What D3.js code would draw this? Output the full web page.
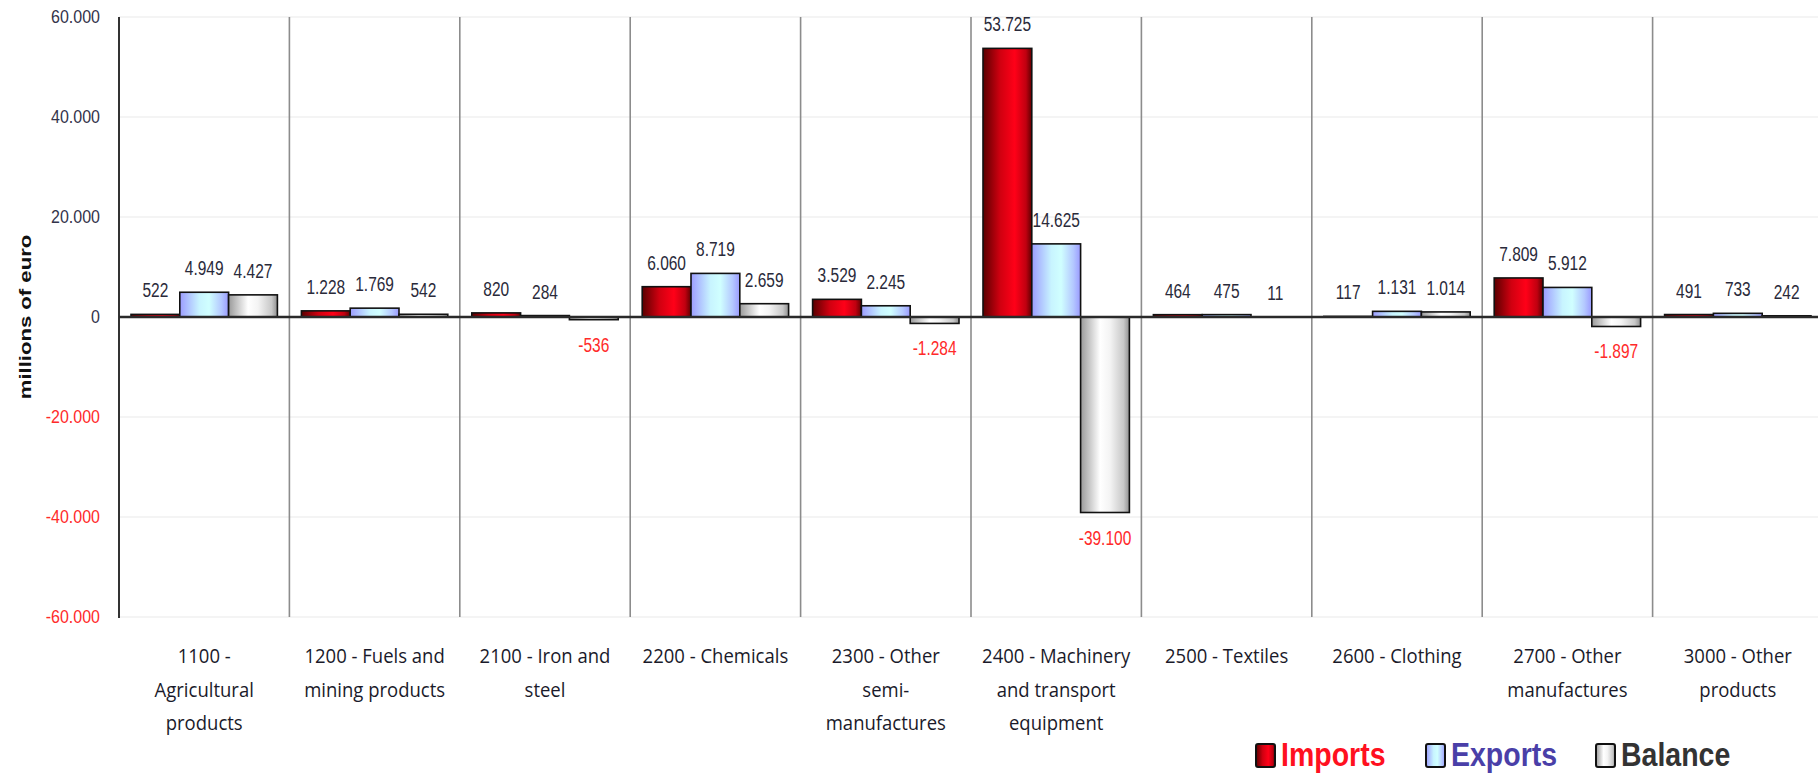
<!DOCTYPE html>
<html>
<head>
<meta charset="utf-8">
<script src="https://cdn.jsdelivr.net/npm/d3@7"></script>
<style>
  html, body { margin: 0; padding: 0; background: #fff; }
  svg { display: block; }
</style>
</head>
<body>
<div id="chart"></div>
<script>
// ---- Data ----
const categories = [
  ["1100 -", "Agricultural", "products"],
  ["1200 - Fuels and", "mining products"],
  ["2100 - Iron and", "steel"],
  ["2200 - Chemicals"],
  ["2300 - Other", "semi-", "manufactures"],
  ["2400 - Machinery", "and transport", "equipment"],
  ["2500 - Textiles"],
  ["2600 - Clothing"],
  ["2700 - Other", "manufactures"],
  ["3000 - Other", "products"]
];
const imports = [522, 1228, 820, 6060, 3529, 53725, 464, 117, 7809, 491];
const exportsV = [4949, 1769, 284, 8719, 2245, 14625, 475, 1131, 5912, 733];
const balance = [4427, 542, -536, 2659, -1284, -39100, 11, 1014, -1897, 242];
const seriesNames = ["Imports", "Exports", "Balance"];
const seriesValues = [imports, exportsV, balance];
const yTicks = [-60000, -40000, -20000, 0, 20000, 40000, 60000];
const yTitle = "millions of euro";

// ---- Setup ----
const W = 1818, H = 775;
const svg = d3.select("#chart").append("svg").attr("width", W).attr("height", H);
const defs = svg.append("defs");

const locale = d3.formatLocale({decimal: ",", thousands: ".", grouping: [3], currency: ["", ""], minus: "-"});
const fmt = locale.format(",d");

const plotLeft = 119, plotRight = 1823, plotTop = 17, plotBottom = 617;
const catIdx = d3.range(categories.length);
const x0 = d3.scaleBand().domain(catIdx).range([plotLeft, plotRight]).paddingInner(0).paddingOuter(0);
const x1 = d3.scaleBand().domain(seriesNames).range([12, x0.bandwidth() - 12]).padding(0);
const y = d3.scaleLinear().domain([-60000, 60000]).range([plotBottom, plotTop]);

// gradients
function grad(id, stops) {
  const g = defs.append("linearGradient").attr("id", id).attr("x1", "0%").attr("x2", "100%").attr("y1", "0%").attr("y2", "0%");
  stops.forEach(s => g.append("stop").attr("offset", s[0]).attr("stop-color", s[1]));
}
grad("gImports", [["0%", "#5a0000"], ["35%", "#d00010"], ["65%", "#ff0018"], ["88%", "#c00010"], ["100%", "#600000"]]);
grad("gExports", [["0%", "#9c9cff"], ["40%", "#c8f4ff"], ["60%", "#d0ffff"], ["85%", "#b4c8ff"], ["100%", "#9a9aff"]]);
grad("gBalance", [["0%", "#9a9a9a"], ["40%", "#ffffff"], ["60%", "#f4f4f4"], ["88%", "#c8c8c8"], ["100%", "#909090"]]);
const fills = {Imports: "url(#gImports)", Exports: "url(#gExports)", Balance: "url(#gBalance)"};

// gridlines
svg.append("g").selectAll("line").data(yTicks.filter(d => d !== 0)).join("line")
  .attr("x1", plotLeft).attr("x2", W).attr("y1", d => y(d)).attr("y2", d => y(d))
  .attr("stroke", "#f0f0f0").attr("stroke-width", 1.5);

// category dividers
svg.append("g").selectAll("line").data(catIdx.slice(1)).join("line")
  .attr("x1", d => x0(d)).attr("x2", d => x0(d)).attr("y1", plotTop).attr("y2", plotBottom)
  .attr("stroke", "#8c8c8c").attr("stroke-width", 1.6);

// y axis line
svg.append("line").attr("x1", plotLeft).attr("x2", plotLeft).attr("y1", plotTop).attr("y2", plotBottom + 1)
  .attr("stroke", "#333").attr("stroke-width", 2);

// y tick labels
svg.append("g").selectAll("text").data(yTicks).join("text")
  .attr("transform", d => `translate(100,${y(d) + 6}) scale(1,1.15)`)
  .attr("text-anchor", "end")
  .attr("font-family", "'Liberation Sans', Arial, sans-serif")
  .attr("font-size", 16)
  .attr("fill", d => d < 0 ? "#ff2a2a" : "#33334a")
  .text(d => fmt(d));

// y title
svg.append("text")
  .attr("transform", `translate(31,${y(0)}) rotate(-90) scale(1.3,1)`)
  .attr("text-anchor", "middle")
  .attr("font-family", "'Liberation Sans', Arial, sans-serif")
  .attr("font-weight", "bold")
  .attr("font-size", 17)
  .attr("fill", "#111")
  .text(yTitle);

// bars
const flat = [];
catIdx.forEach(i => seriesNames.forEach((s, k) => flat.push({i, s, v: seriesValues[k][i]})));

svg.append("g").selectAll("rect").data(flat).join("rect")
  .attr("x", d => x0(d.i) + x1(d.s))
  .attr("width", x1.bandwidth())
  .attr("y", d => Math.min(y(d.v), y(0)))
  .attr("height", d => Math.abs(y(d.v) - y(0)))
  .attr("fill", d => fills[d.s])
  .attr("stroke", "#111")
  .attr("stroke-width", 1.6);

// zero line
svg.append("line").attr("x1", plotLeft).attr("x2", W).attr("y1", y(0)).attr("y2", y(0))
  .attr("stroke", "#2a2a2a").attr("stroke-width", 2.6);

// value labels
svg.append("g").selectAll("text").data(flat).join("text")
  .attr("transform", d => {
    const cx = x0(d.i) + x1(d.s) + x1.bandwidth() / 2;
    const ty = d.v >= 0 ? y(d.v) - 17 : y(d.v) + 32;
    return `translate(${cx},${ty}) scale(1,1.25)`;
  })
  .attr("text-anchor", "middle")
  .attr("font-family", "'Liberation Sans', Arial, sans-serif")
  .attr("font-size", 15.5)
  .attr("fill", d => d.v < 0 ? "#ff2a2a" : "#2a2a3a")
  .text(d => fmt(d.v));

// category labels
const catG = svg.append("g");
categories.forEach((lines, i) => {
  lines.forEach((ln, j) => {
    catG.append("text")
      .attr("transform", `translate(${x0(i) + x0.bandwidth() / 2},${663 + j * 33.5}) scale(1,1.1)`)
      .attr("text-anchor", "middle")
      .attr("font-family", "'Open Sans', 'DejaVu Sans', sans-serif")
      .attr("font-size", 18.5)
      .attr("fill", "#1a1a2a")
      .text(ln);
  });
});

// legend
const legendItems = [
  {name: "Imports", x: 1256, color: "#ff1020"},
  {name: "Exports", x: 1426, color: "#4a3fa8"},
  {name: "Balance", x: 1596, color: "#333333"}
];
const lg = svg.append("g");
legendItems.forEach(it => {
  lg.append("rect").attr("x", it.x).attr("y", 744).attr("width", 19).attr("height", 23).attr("rx", 2)
    .attr("fill", fills[it.name]).attr("stroke", "#111").attr("stroke-width", 2);
  lg.append("text")
    .attr("transform", `translate(${it.x + 25},766) scale(1,1.15)`)
    .attr("font-family", "'Liberation Sans', Arial, sans-serif")
    .attr("font-weight", "bold")
    .attr("font-size", 28.5)
    .attr("fill", it.color)
    .text(it.name);
});
</script>
</body>
</html>
